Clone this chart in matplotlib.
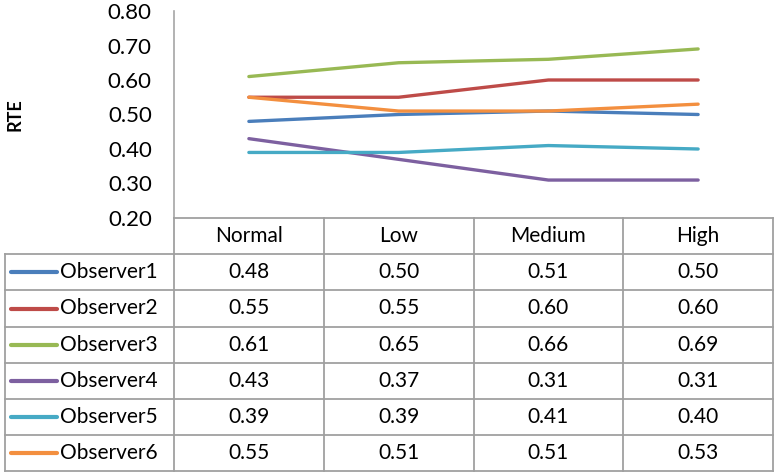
import matplotlib.pyplot as plt
from matplotlib.lines import Line2D

plt.rcParams['font.family'] = ['Lato', 'DejaVu Sans']

categories = ['Normal', 'Low', 'Medium', 'High']
observers = ['Observer1', 'Observer2', 'Observer3', 'Observer4', 'Observer5', 'Observer6']
obs1 = [0.48, 0.50, 0.51, 0.50]
obs2 = [0.55, 0.55, 0.60, 0.60]
obs3 = [0.61, 0.65, 0.66, 0.69]
obs4 = [0.43, 0.37, 0.31, 0.31]
obs5 = [0.39, 0.39, 0.41, 0.40]
obs6 = [0.55, 0.51, 0.51, 0.53]
series = [obs1, obs2, obs3, obs4, obs5, obs6]
colors = ['#4A7EBB', '#BE4B48', '#98B954', '#7D60A0', '#46AAC5', '#F38F3F']

W, H = 778, 474
fig = plt.figure(figsize=(W / 100, H / 100), dpi=100)

def fx(px):
    return px / W

def fy(py):
    return 1 - py / H

# plot area
ax = fig.add_axes([fx(174), fy(218), fx(773) - fx(174), fy(11) - fy(218)])
for vals, c in zip(series, colors):
    ax.plot(range(len(categories)), vals, color=c, lw=2.4, solid_capstyle='round')
ax.set_xlim(-0.5, len(categories) - 0.5)
ax.set_ylim(0.2, 0.8)
ax.set_yticks([0.2, 0.3, 0.4, 0.5, 0.6, 0.7, 0.8])
ax.set_yticklabels(['%.2f' % v for v in ax.get_yticks()], fontsize=16)
ax.tick_params(axis='y', length=0, pad=16)
ax.set_xticks([])
for s in ['top', 'right', 'bottom']:
    ax.spines[s].set_visible(False)
ax.spines['left'].set_color('#A6A6A6')
ax.spines['left'].set_linewidth(1.2)
fig.text(fx(15), fy(115), 'RTE', rotation=90, fontsize=13, fontweight='bold',
         ha='center', va='center')

# data table below
grid = '#A0A0A0'
col_x = [5, 174, 324, 474, 623, 773]
row_y = [218, 254, 290, 327, 363, 399, 435, 471]

def hline(y, x0, x1):
    fig.add_artist(Line2D([fx(x0), fx(x1)], [fy(y), fy(y)], color=grid, lw=1.3))

def vline(x, y0, y1):
    fig.add_artist(Line2D([fx(x), fx(x)], [fy(y0), fy(y1)], color=grid, lw=1.3))

hline(row_y[0], col_x[1], col_x[-1])
for y in row_y[1:]:
    hline(y, col_x[0], col_x[-1])
vline(col_x[0], row_y[1], row_y[-1])
for x in col_x[1:]:
    vline(x, row_y[0], row_y[-1])

for j, cat in enumerate(categories):
    cx = (col_x[j + 1] + col_x[j + 2]) / 2
    cy = (row_y[0] + row_y[1]) / 2
    fig.text(fx(cx), fy(cy), cat, fontsize=15, ha='center', va='center')

for i, (name, vals, c) in enumerate(zip(observers, series, colors)):
    cy = (row_y[i + 1] + row_y[i + 2]) / 2
    fig.add_artist(Line2D([fx(11), fx(57)], [fy(cy), fy(cy)], color=c, lw=3,
                          solid_capstyle='round'))
    fig.text(fx(60), fy(cy), name, fontsize=15, ha='left', va='center')
    for j, v in enumerate(vals):
        cx = (col_x[j + 1] + col_x[j + 2]) / 2
        fig.text(fx(cx), fy(cy), '%.2f' % v, fontsize=15, ha='center', va='center')

fig.savefig('out.png', dpi=100)
